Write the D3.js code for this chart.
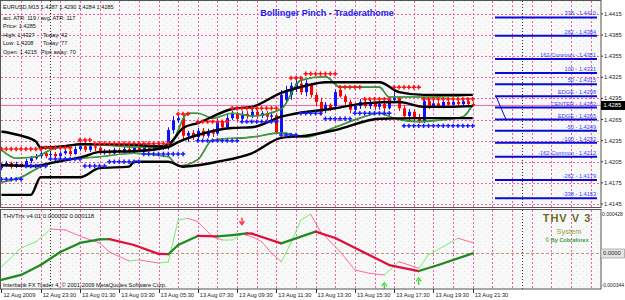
<!DOCTYPE html>
<html>
<head>
<meta charset="utf-8">
<style>
  body { margin: 0; background: #fff; }
  svg { display: block; font-family: 'Liberation Sans', Arial, sans-serif; }
</style>
</head>
<body>
<svg width="625" height="300"></svg>
<script src="https://d3js.org/d3.v7.min.js"></script>
<script>
// EURUSD M15, bars from 12 Aug 2009 21:30 to 13 Aug 2009 21:30 (bar index 0..96)
let open = [1.4196,1.4200,1.4203,1.4198,1.4202,1.4199,1.4206,1.4210,1.4213,1.4217,
  1.4215,1.4216,1.4213,1.4217,1.4220,1.4216,1.4223,1.4227,1.4222,1.4227,
  1.4225,1.4217,1.4220,1.4217,1.4222,1.4219,1.4223,1.4220,1.4225,1.4222,
  1.4226,1.4223,1.4227,1.4225,1.4226,1.4250,1.4264,1.4267,1.4242,1.4246,
  1.4240,1.4249,1.4242,1.4247,1.4245,1.4262,1.4254,1.4267,1.4273,1.4266,
  1.4273,1.4270,1.4276,1.4270,1.4274,1.4269,1.4271,1.4247,1.4293,1.4300,
  1.4310,1.4316,1.4304,1.4314,1.4300,1.4290,1.4279,1.4286,1.4284,1.4307,
  1.4298,1.4290,1.4279,1.4284,1.4290,1.4284,1.4288,1.4283,1.4287,1.4281,
  1.4293,1.4296,1.4281,1.4270,1.4276,1.4267,1.4263,1.4291,1.4284,1.4288,
  1.4284,1.4290,1.4286,1.4290,1.4287,1.4291,1.4287]
let high = [1.4203,1.4206,1.4205,1.4205,1.4203,1.4209,1.4213,1.4216,1.4220,1.4220,
  1.4219,1.4219,1.4220,1.4223,1.4223,1.4227,1.4232,1.4236,1.4230,1.4230,
  1.4227,1.4223,1.4223,1.4225,1.4225,1.4226,1.4226,1.4227,1.4227,1.4229,
  1.4229,1.4230,1.4230,1.4229,1.4254,1.4270,1.4271,1.4270,1.4249,1.4250,
  1.4253,1.4253,1.4252,1.4252,1.4266,1.4264,1.4273,1.4277,1.4276,1.4277,
  1.4277,1.4280,1.4279,1.4277,1.4277,1.4276,1.4274,1.4307,1.4313,1.4318,
  1.4327,1.4321,1.4321,1.4317,1.4304,1.4296,1.4290,1.4288,1.4308,1.4313,
  1.4301,1.4293,1.4288,1.4294,1.4294,1.4293,1.4291,1.4291,1.4290,1.4297,
  1.4314,1.4298,1.4286,1.4280,1.4279,1.4273,1.4296,1.4294,1.4293,1.4291,
  1.4293,1.4293,1.4293,1.4293,1.4294,1.4294,1.4290]
let low = [1.4193,1.4198,1.4195,1.4196,1.4196,1.4198,1.4203,1.4208,1.4210,1.4210,
  1.4210,1.4208,1.4210,1.4215,1.4213,1.4215,1.4220,1.4219,1.4219,1.4220,
  1.4215,1.4215,1.4215,1.4215,1.4216,1.4216,1.4217,1.4217,1.4219,1.4219,
  1.4220,1.4220,1.4222,1.4222,1.4222,1.4245,1.4260,1.4236,1.4233,1.4236,
  1.4236,1.4239,1.4239,1.4240,1.4242,1.4250,1.4252,1.4264,1.4262,1.4263,
  1.4266,1.4267,1.4266,1.4267,1.4264,1.4264,1.4245,1.4239,1.4288,1.4293,
  1.4304,1.4300,1.4298,1.4296,1.4284,1.4271,1.4274,1.4277,1.4281,1.4296,
  1.4286,1.4274,1.4276,1.4280,1.4281,1.4280,1.4279,1.4279,1.4276,1.4279,
  1.4288,1.4277,1.4267,1.4264,1.4263,1.4260,1.4260,1.4280,1.4281,1.4281,
  1.4281,1.4283,1.4283,1.4284,1.4284,1.4284,1.4284]
let close = [1.4200,1.4203,1.4198,1.4202,1.4199,1.4206,1.4210,1.4213,1.4217,1.4213,
  1.4216,1.4213,1.4217,1.4220,1.4216,1.4223,1.4227,1.4222,1.4227,1.4225,
  1.4217,1.4220,1.4217,1.4222,1.4219,1.4223,1.4220,1.4225,1.4222,1.4226,
  1.4223,1.4227,1.4225,1.4226,1.4250,1.4264,1.4267,1.4242,1.4246,1.4240,
  1.4249,1.4242,1.4247,1.4245,1.4262,1.4254,1.4267,1.4273,1.4266,1.4273,
  1.4270,1.4276,1.4270,1.4274,1.4269,1.4271,1.4247,1.4300,1.4307,1.4313,
  1.4316,1.4304,1.4317,1.4300,1.4290,1.4276,1.4286,1.4281,1.4304,1.4298,
  1.4290,1.4279,1.4284,1.4290,1.4284,1.4288,1.4283,1.4287,1.4281,1.4293,
  1.4296,1.4281,1.4270,1.4276,1.4267,1.4263,1.4291,1.4284,1.4288,1.4284,
  1.4290,1.4286,1.4290,1.4287,1.4291,1.4287,1.4285]

// bollinger bands, [bar, price]
let upperBand = [[0,1.4248],[4,1.4242],[7,1.4234],[8,1.4225],[13,1.4227],[16,1.4230],[20,1.4230],[27,1.4229],
  [32,1.4227],[34,1.4229],[35,1.4236],[37,1.4253],[40,1.4260],[47,1.4280],[51,1.4283],[57,1.4303],
  [62,1.4313],[66,1.4318],[77,1.4318],[81,1.4304],[86,1.4300],[96,1.4300]]
let middleBand = [[0,1.4200],[7,1.4199],[10,1.4203],[17,1.4213],[20,1.4219],[27,1.4220],[34,1.4226],[36,1.4233],
  [40,1.4243],[47,1.4253],[51,1.4254],[57,1.4269],[68,1.4281],[74,1.4288],[81,1.4290],[86,1.4283],
  [91,1.4283],[96,1.4284]]
let lowerBand = [[0,1.4158],[6,1.4158],[8,1.4183],[16,1.4183],[20,1.4196],[26,1.4198],[27,1.4205],[34,1.4205],
  [37,1.4198],[40,1.4200],[44,1.4205],[51,1.4217],[57,1.4239],[62,1.4242],[68,1.4250],[77,1.4266],
  [85,1.4267],[96,1.4267]]
// keltner channel, [bar, price]
let upperKeltner = [[0,1.4222],[3,1.4210],[7,1.4212],[10,1.4222],[15,1.4229],[20,1.4229],[27,1.4226],[34,1.4226],
  [35,1.4235],[38,1.4274],[40,1.4274],[43,1.4267],[47,1.4274],[51,1.4270],[57,1.4280],[61,1.4321],
  [66,1.4326],[69,1.4311],[77,1.4311],[79,1.4297],[87,1.4297],[96,1.4300]]
let lowerKeltner = [[0,1.4176],[4,1.4183],[8,1.4198],[13,1.4208],[20,1.4212],[27,1.4217],[34,1.4212],[36,1.4199],
  [40,1.4208],[43,1.4236],[51,1.4240],[57,1.4246],[62,1.4240],[68,1.4254],[73,1.4267],[77,1.4274],
  [80,1.4267],[85,1.4262],[89,1.4264],[94,1.4269],[96,1.4286]]

// stop dots, [first bar, last bar, price]
let redLevels = [[0,8,1.4223],[9,14,1.4225],[16,18,1.4236],[19,34,1.4231],[36,38,1.4273],[40,46,1.4262],
  [47,56,1.4281],[59,61,1.4324],[62,68,1.4330],[69,73,1.4311],[74,79,1.4294],[80,85,1.4311],[86,96,1.4294]]
let blueLevels = [[0,4,1.4180],[5,9,1.4199],[10,16,1.4209],[17,21,1.4199],[22,28,1.4205],[29,37,1.4216],
  [40,48,1.4235],[49,56,1.4262],[57,60,1.4243],[61,65,1.4274],[66,71,1.4266],[72,79,1.4274],[82,96,1.4256]]

// fibonacci projections
let fibNames = ["338","262","162-Common","100","50","EDGE","CENTER","EDGE","-50","-100","-162-Common","-262","-338"]
let fibPrices = [1.4410,1.4384,1.4351,1.4331,1.4315,1.4298,1.4282,1.4265,1.4249,1.4232,1.4212,1.4179,1.4153]

// THVTrix sub window, [bar, value]
let trixLine = [[0,-0.000287],[4,-0.000233],[8,-0.000125],[12,0.000016],[16,0.000114],[20,0.000154],[22,0.000156],
  [27,0.000092],[32,-0.000005],[34,-0.000008],[36,0.000092],[40,0.000190],[44,0.000185],[47,0.000200],
  [50,0.000219],[51,0.000215],[57,0.000110],[64,0.000236],[68,0.000168],[79,-0.000125],[85,-0.000190],
  [89,-0.000125],[96,0.000002]]
let signalLine = [[0,-0.000146],[4,0.000060],[7,0.000125],[10,0.000265],[13,0.000255],[17,0.000168],[20,0.000114],
  [22,0.000016],[26,-0.000081],[28,-0.000070],[32,-0.000103],[34,-0.000092],[36,0.000363],[38,0.000381],
  [40,0.000345],[43,0.000182],[45,0.000146],[47,0.000146],[49,0.000211],[51,0.000182],[53,0.000128],
  [55,0.000005],[57,-0.000089],[59,0.000114],[61,0.000363],[63,0.000425],[65,0.000236],[67,0.000128],
  [69,0.000020],[72,-0.000179],[75,-0.000215],[78,-0.000233],[81,-0.000089],[85,-0.000160],[87,-0.000016],
  [93,0.000165],[96,0.000118]]
let arrows = [[49,0.000345,"down"],[78,-0.000349,"up"],[85,-0.000298,"up"]]

// axis labels
let priceTicks = [1.4415,1.4385,1.4355,1.4325,1.4295,1.4265,1.4235,1.4205,1.4175,1.4145]
let timeLabelBars = [0,8,16,24,32,40,48,56,64,72,80,88,96]
let timeLabels = ["12 Aug 2009","12 Aug 23:30","13 Aug 01:30","13 Aug 03:30","13 Aug 05:30","13 Aug 07:30",
  "13 Aug 09:30","13 Aug 11:30","13 Aug 13:30","13 Aug 15:30","13 Aug 17:30","13 Aug 19:30","13 Aug 21:30"]
let daySeparators = [10, 106]
let bidPrice = 1.4285

let infoLines = ["act. ATR: 119 / avg. ATR: 117", "Price: 1.4285", "High: 1.4327", "Low:    1.4208", "Open: 1.4215"]
let infoRight = ["", "", "Today: 42", "Today: 77", "Pips away: 70"]

// ---------------------------------------------------------------
let svg = d3.select("svg")
let pink = "#f25fae"

let x = d3.scaleLinear().domain([0, 96]).range([1.4, 472.7])
let y = d3.scaleLinear().domain([1.41407, 1.44320]).range([207, 2])
let ySub = d3.scaleLinear().domain([-0.000385, 0.000428]).range([289, 214])

let defs = svg.append("defs")
defs.append("clipPath").attr("id", "cMain").append("rect")
  .attr("x", 1).attr("y", 1).attr("width", 600).attr("height", 206)
defs.append("clipPath").attr("id", "cSub").append("rect")
  .attr("x", 1).attr("y", 210).attr("width", 600).attr("height", 79)
let pat = defs.append("pattern").attr("id", "speck").attr("patternUnits", "userSpaceOnUse")
  .attr("width", 7).attr("height", 6)
pat.append("rect").attr("width", 7).attr("height", 6).attr("fill", "#f8f8f8")
pat.append("rect").attr("x", 2).attr("y", 1).attr("width", 1).attr("height", 1).attr("fill", "#d4ecd4")
pat.append("rect").attr("x", 5).attr("y", 4).attr("width", 1).attr("height", 1).attr("fill", "#dcefdc")

// panels
svg.append("rect").attr("x", 1).attr("y", 1).attr("width", 600).attr("height", 206).attr("fill", "url(#speck)")
svg.append("rect").attr("x", 1).attr("y", 210).attr("width", 600).attr("height", 79).attr("fill", "url(#speck)")

let main = svg.append("g").attr("clip-path", "url(#cMain)")
let sub = svg.append("g").attr("clip-path", "url(#cSub)")

let gridBars = d3.range(4, 124, 4)

// grid main
main.selectAll(".hg").data(priceTicks).join("line")
  .attr("x1", 1).attr("x2", 601).attr("y1", d => Math.round(y(d)) + 0.5).attr("y2", d => Math.round(y(d)) + 0.5)
  .attr("stroke", pink).attr("stroke-dasharray", "2,2")
main.selectAll(".vg").data(gridBars).join("line")
  .attr("x1", d => Math.round(x(d)) + 0.5).attr("x2", d => Math.round(x(d)) + 0.5).attr("y1", 1).attr("y2", 207)
  .attr("stroke", pink).attr("stroke-dasharray", "2,2")
sub.selectAll(".vg").data(gridBars).join("line")
  .attr("x1", d => Math.round(x(d)) + 0.5).attr("x2", d => Math.round(x(d)) + 0.5).attr("y1", 210).attr("y2", 289)
  .attr("stroke", pink).attr("stroke-dasharray", "2,2")
main.selectAll(".ds").data(daySeparators).join("line")
  .attr("x1", d => Math.round(x(d)) + 0.5).attr("x2", d => Math.round(x(d)) + 0.5).attr("y1", 1).attr("y2", 207)
  .attr("stroke", "#333").attr("stroke-dasharray", "1,2")
sub.selectAll(".ds").data(daySeparators).join("line")
  .attr("x1", d => Math.round(x(d)) + 0.5).attr("x2", d => Math.round(x(d)) + 0.5).attr("y1", 210).attr("y2", 289)
  .attr("stroke", "#333").attr("stroke-dasharray", "1,2")

// bid line
main.append("line").attr("x1", 1).attr("x2", 601)
  .attr("y1", y(bidPrice)).attr("y2", y(bidPrice)).attr("stroke", "#f06aa8").attr("stroke-width", 1)

// candles
let bars = d3.range(open.length)
let candle = main.append("g").selectAll("g").data(bars).join("g")
  .attr("stroke", i => close[i] >= open[i] ? "#1010ff" : "#ff0000")
  .attr("fill", i => close[i] >= open[i] ? "#1010ff" : "#ff0000")
candle.append("line")
  .attr("x1", i => Math.round(x(i)) + 0.5).attr("x2", i => Math.round(x(i)) + 0.5)
  .attr("y1", i => y(high[i])).attr("y2", i => y(low[i]))
candle.append("rect")
  .attr("stroke", "none")
  .attr("x", i => Math.round(x(i)) - 1).attr("width", 3)
  .attr("y", i => y(Math.max(open[i], close[i])))
  .attr("height", i => Math.max(1, Math.abs(y(open[i]) - y(close[i]))))

// bands
let line = d3.line().x(d => x(d[0])).y(d => y(d[1])).curve(d3.curveMonotoneX)
;[upperKeltner, lowerKeltner].forEach(k => {
  main.append("path").attr("d", line(k)).attr("fill", "none").attr("stroke", "#1d6f1d").attr("stroke-width", 1.6)
  main.append("path").attr("d", line(k)).attr("fill", "none").attr("stroke", "#5fcc5f").attr("stroke-width", 0.6)
})
;[upperBand, middleBand, lowerBand].forEach(b => {
  main.append("path").attr("d", line(b)).attr("fill", "none").attr("stroke", "#000").attr("stroke-width", 2.4)
})

// stop dots
let cross = d3.symbol().type(d3.symbolCross).size(11)
function dots(levels, color) {
  let pts = []
  levels.forEach(l => { for (let i = l[0]; i <= l[1]; i++) pts.push([i, l[2]]) })
  main.append("g").selectAll("path").data(pts).join("path")
    .attr("d", cross).attr("transform", d => `translate(${x(d[0])},${y(d[1])})`)
    .attr("fill", color)
}
dots(redLevels, "#ff1010")
dots(blueLevels, "#1a1aff")

// fibonacci lines
let fibG = main.append("g")
fibG.selectAll("line").data(fibPrices).join("line")
  .attr("x1", 495).attr("x2", 597).attr("y1", d => y(d)).attr("y2", d => y(d))
  .attr("stroke", "#0a0ad8").attr("stroke-width", 2)
fibG.selectAll("text").data(fibPrices).join("text")
  .attr("x", 596).attr("y", d => y(d) - 2).attr("text-anchor", "end")
  .attr("font-size", 5.6).attr("fill", "#3a3aff")
  .text((d, i) => fibNames[i] + " - " + d3.format(".4f")(d))
fibG.append("line").attr("x1", 496).attr("x2", 506)
  .attr("y1", y(fibPrices[5])).attr("y2", y(fibPrices[7]))
  .attr("stroke", "#0a0ad8").attr("stroke-width", 1)

// sub window
sub.append("line").attr("x1", 1).attr("x2", 601).attr("y1", ySub(0)).attr("y2", ySub(0))
  .attr("stroke", "#b89878").attr("stroke-dasharray", "3,2")
function segs(data, up, down, w) {
  let s = d3.pairs(data)
  sub.append("g").selectAll("line").data(s).join("line")
    .attr("x1", d => x(d[0][0])).attr("y1", d => ySub(d[0][1]))
    .attr("x2", d => x(d[1][0])).attr("y2", d => ySub(d[1][1]))
    .attr("stroke", d => d[1][1] >= d[0][1] ? up : down)
    .attr("stroke-width", w).attr("stroke-linecap", "round")
}
segs(signalLine, "#74ee74", "#ff6d9c", 1)
segs(trixLine, "#1f8a1f", "#e0103c", 2.3)
sub.append("g").selectAll("path").data(arrows).join("path")
  .attr("d", d => {
    let cx = x(d[0]), cy = ySub(d[1])
    return d[2] == "down"
      ? `M${cx},${cy - 4}V${cy + 1}M${cx - 2.5},${cy - 0.5}L${cx},${cy + 3}L${cx + 2.5},${cy - 0.5}`
      : `M${cx},${cy + 4}V${cy - 1}M${cx - 2.5},${cy + 0.5}L${cx},${cy - 3}L${cx + 2.5},${cy + 0.5}`
  })
  .attr("fill", "none").attr("stroke", d => d[2] == "down" ? "#ff2040" : "#30dd30").attr("stroke-width", 1.3)

// frames
svg.append("rect").attr("x", 0.5).attr("y", 0.5).attr("width", 600.5).attr("height", 207)
  .attr("fill", "none").attr("stroke", "#555")
svg.append("rect").attr("x", 0.5).attr("y", 209.5).attr("width", 600.5).attr("height", 79.5)
  .attr("fill", "none").attr("stroke", "#555")

// price axis
let pa = svg.append("g").attr("font-size", 5.8).attr("fill", "#222")
pa.selectAll("line").data(priceTicks).join("line")
  .attr("x1", 601).attr("x2", 603).attr("y1", d => y(d)).attr("y2", d => y(d)).attr("stroke", "#333")
pa.selectAll("text").data(priceTicks).join("text")
  .attr("x", 604).attr("y", d => y(d) + 2).text(d => d3.format(".4f")(d))
pa.append("rect").attr("x", 601).attr("y", y(bidPrice) - 4.5).attr("width", 24).attr("height", 9).attr("fill", "#000")
pa.append("text").attr("x", 603.5).attr("y", y(bidPrice) + 2).attr("fill", "#fff").text(d3.format(".4f")(bidPrice))

// sub axis
let sa = svg.append("g").attr("font-size", 5).attr("fill", "#222")
sa.append("text").attr("x", 602).attr("y", ySub(0.000428) + 2).text("0.000428")
sa.append("rect").attr("x", 601).attr("y", ySub(0) - 4.5).attr("width", 23.5).attr("height", 9)
  .attr("fill", "#e4e4e4").attr("stroke", "#888").attr("stroke-width", 0.6)
sa.append("text").attr("x", 603).attr("y", ySub(0) + 2).attr("font-size", 5.8).text("0.0000")
sa.append("text").attr("x", 601.5).attr("y", ySub(-0.000344) + 2).text("-0.000344")

// time axis
let ta = svg.append("g").attr("font-size", 5.7).attr("fill", "#222")
ta.selectAll("line").data(timeLabelBars).join("line")
  .attr("x1", d => Math.round(x(d)) + 0.5).attr("x2", d => Math.round(x(d)) + 0.5)
  .attr("y1", 289).attr("y2", 293).attr("stroke", "#333")
ta.selectAll("text").data(timeLabelBars).join("text")
  .attr("x", d => x(d) + 2).attr("y", 297).text((d, i) => timeLabels[i])

// texts
svg.append("text").attr("x", 327).attr("y", 16).attr("text-anchor", "middle")
  .attr("font-size", 9).attr("font-weight", "bold").attr("fill", "#1c1cf0")
  .text("Bollinger Pinch - Traderathome")
svg.append("text").attr("x", 3).attr("y", 8.5).attr("font-size", 5.6).attr("fill", "#111")
  .text("EURUSD,M15  1.4287 1.4290 1.4284 1.4285")
let info = svg.append("g").attr("font-size", 5.6).attr("fill", "#111")
info.selectAll(".l").data(infoLines).join("text")
  .attr("x", 3).attr("y", (d, i) => 19.5 + i * 8.5).text(d => d)
info.selectAll(".r").data(infoRight).join("text")
  .attr("x", (d, i) => i == 4 ? 41 : 43).attr("y", (d, i) => 19.5 + i * 8.5).text(d => d)

svg.append("text").attr("x", 3).attr("y", 218).attr("font-size", 6).attr("fill", "#111")
  .text("THVTrix v4.01 0.000002 0.000118")
svg.append("text").attr("x", 3).attr("y", 287).attr("font-size", 5.7).attr("fill", "#111")
  .text("Interbank FX Trader 4, \u00a9 2001-2009 MetaQuotes Software Corp.")

svg.append("text").attr("x", 567).attr("y", 222).attr("text-anchor", "middle")
  .attr("font-size", 11).attr("font-weight", "bold").attr("letter-spacing", 1).attr("fill", "#6b6b1f")
  .text("THV V 3")
svg.append("text").attr("x", 569).attr("y", 234).attr("text-anchor", "middle")
  .attr("font-size", 7.5).attr("fill", "#9c9c3c").text("System")
svg.append("text").attr("x", 567).attr("y", 241.5).attr("text-anchor", "middle")
  .attr("font-size", 5.5).attr("font-weight", "bold").attr("fill", "#3a9a3a").text("\u00a9 By Cobraforex")
</script>
</body>
</html>
